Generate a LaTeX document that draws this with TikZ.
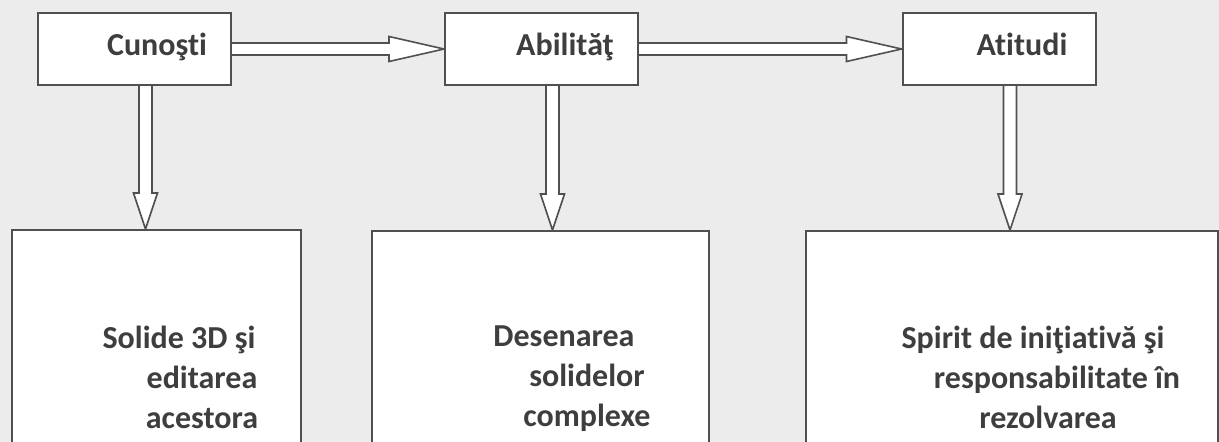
\documentclass[tikz,border=0pt]{standalone}
\usepackage{fontspec}
\setmainfont{Carlito}[Ligatures=NoCommon]
\usepackage{xcolor}
\definecolor{paper}{RGB}{236,236,236}
\definecolor{linegray}{RGB}{80,80,80}
\definecolor{inkgray}{RGB}{62,62,62}
\usetikzlibrary{calc,backgrounds}

\tikzset{
  box/.style={draw=linegray, fill=white, line width=2pt, inner sep=0pt},
  topbox/.style={box, minimum width=193pt, minimum height=72pt},
  boxtext/.style={text=inkgray, font=\bfseries\fontsize{32}{40}\selectfont, inner sep=0pt},
  hollow/.style={draw=linegray, fill=white, line width=1.6pt, line join=miter}
}
% hollow block arrows
\newcommand{\rightblock}[2]{%
  \draw[hollow] ($(#1.east)+(0,-6)$) -- ($(#2.west)+(-55,-6)$) -- ($(#2.west)+(-55,-12.5)$)
    -- (#2.west) -- ($(#2.west)+(-55,12.5)$) -- ($(#2.west)+(-55,6)$) -- ($(#1.east)+(0,6)$);}
\newcommand{\downblock}[2]{%
  \draw[hollow] ($(#1)+(-6.5,0)$) -- ($(#2)+(-6.5,-36)$) -- ($(#2)+(-12,-36)$)
    -- (#2) -- ($(#2)+(12,-36)$) -- ($(#2)+(6.5,-36)$) -- ($(#1)+(6.5,0)$);}

\begin{document}
\begin{tikzpicture}[x=1pt, y=-1pt]
  \useasboundingbox (0,0) rectangle (1219,442);
  \clip (0,0) rectangle (1219,442);
  \begin{pgfonlayer}{background}
    \fill[paper] (0,0) rectangle (1219,442);
  \end{pgfonlayer}

  % top row
  \node[topbox] (cun) at (134.5,49) {};
  \node[topbox] (abil) at (541.5,49) {};
  \node[topbox] (atit) at (999,49) {};
  \node[boxtext, anchor=base] (cun-txt) at (157,55) {Cunoşti};
  \node[boxtext, anchor=base] (abil-txt) at (565,55) {Abilităţ};
  \node[boxtext, anchor=base] (atit-txt) at (1022,55) {Atitudi};

  % bottom row
  \node[box, minimum width=289pt, minimum height=260pt, anchor=north] (sol) at (156.5,229) {};
  \node[box, minimum width=337pt, minimum height=260pt, anchor=north] (des) at (540.5,230) {};
  \node[box, minimum width=412pt, minimum height=260pt, anchor=north] (spir) at (1012,230) {};
  \node[boxtext, align=center, anchor=north] (sol-txt) at (202,326)
    {Solide 3D şi\hspace*{46pt}\\ editarea\\ acestora};
  \node[boxtext, align=center, anchor=north] (des-txt) at (587,326)
    {Desenarea\hspace*{46pt}\\ solidelor\\ complexe};
  \node[boxtext, align=center, anchor=north] (spir-txt) at (1057,326)
    {Spirit de iniţiativă şi\hspace*{48pt}\\ responsabilitate în\\ rezolvarea\hspace*{18pt}};

  \coordinate (cun-out) at ($(cun.south)+(11,0)$);
  \coordinate (abil-out) at ($(abil.south)+(11,0)$);
  \coordinate (atit-out) at ($(atit.south)+(11,0)$);
  \coordinate (sol-in) at (cun-out |- sol.north);
  \coordinate (des-in) at (abil-out |- des.north);
  \coordinate (spir-in) at (atit-out |- spir.north);

  \begin{scope}[on background layer]
    \rightblock{cun}{abil}
    \rightblock{abil}{atit}
    \downblock{cun-out}{sol-in}
    \downblock{abil-out}{des-in}
    \downblock{atit-out}{spir-in}
  \end{scope}
\end{tikzpicture}
\end{document}
